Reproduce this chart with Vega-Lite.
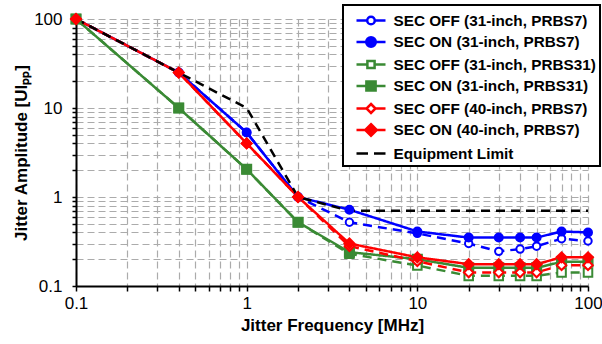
{
  "$schema": "https://vega.github.io/schema/vega-lite/v6.json",
  "width": 512,
  "height": 267,
  "autosize": {"type": "none"},
  "padding": {"left": 76, "top": 19, "right": 14, "bottom": 58},
  "background": "white",
  "config": {
    "view": {"stroke": null},
    "font": "Liberation Sans"
  },
  "data": {
    "values": [
      {"s": "SEC OFF (31-inch, PRBS7)", "f": 0.1, "a": 100},
      {"s": "SEC OFF (31-inch, PRBS7)", "f": 0.4, "a": 25},
      {"s": "SEC OFF (31-inch, PRBS7)", "f": 1, "a": 5.3},
      {"s": "SEC OFF (31-inch, PRBS7)", "f": 2, "a": 1},
      {"s": "SEC OFF (31-inch, PRBS7)", "f": 4, "a": 0.52},
      {"s": "SEC OFF (31-inch, PRBS7)", "f": 10, "a": 0.39},
      {"s": "SEC OFF (31-inch, PRBS7)", "f": 20, "a": 0.3},
      {"s": "SEC OFF (31-inch, PRBS7)", "f": 30, "a": 0.245},
      {"s": "SEC OFF (31-inch, PRBS7)", "f": 40, "a": 0.26},
      {"s": "SEC OFF (31-inch, PRBS7)", "f": 50, "a": 0.28},
      {"s": "SEC OFF (31-inch, PRBS7)", "f": 70, "a": 0.34},
      {"s": "SEC OFF (31-inch, PRBS7)", "f": 100, "a": 0.32},
      {"s": "SEC ON (31-inch, PRBS7)", "f": 0.1, "a": 100},
      {"s": "SEC ON (31-inch, PRBS7)", "f": 0.4, "a": 25},
      {"s": "SEC ON (31-inch, PRBS7)", "f": 1, "a": 5.3},
      {"s": "SEC ON (31-inch, PRBS7)", "f": 2, "a": 1},
      {"s": "SEC ON (31-inch, PRBS7)", "f": 4, "a": 0.72},
      {"s": "SEC ON (31-inch, PRBS7)", "f": 10, "a": 0.41},
      {"s": "SEC ON (31-inch, PRBS7)", "f": 20, "a": 0.35},
      {"s": "SEC ON (31-inch, PRBS7)", "f": 30, "a": 0.35},
      {"s": "SEC ON (31-inch, PRBS7)", "f": 40, "a": 0.35},
      {"s": "SEC ON (31-inch, PRBS7)", "f": 50, "a": 0.35},
      {"s": "SEC ON (31-inch, PRBS7)", "f": 70, "a": 0.41},
      {"s": "SEC ON (31-inch, PRBS7)", "f": 100, "a": 0.4},
      {"s": "SEC OFF (31-inch, PRBS31)", "f": 0.1, "a": 100},
      {"s": "SEC OFF (31-inch, PRBS31)", "f": 0.4, "a": 10},
      {"s": "SEC OFF (31-inch, PRBS31)", "f": 1, "a": 2.05},
      {"s": "SEC OFF (31-inch, PRBS31)", "f": 2, "a": 0.52},
      {"s": "SEC OFF (31-inch, PRBS31)", "f": 4, "a": 0.23},
      {"s": "SEC OFF (31-inch, PRBS31)", "f": 10, "a": 0.17},
      {"s": "SEC OFF (31-inch, PRBS31)", "f": 20, "a": 0.13},
      {"s": "SEC OFF (31-inch, PRBS31)", "f": 30, "a": 0.13},
      {"s": "SEC OFF (31-inch, PRBS31)", "f": 40, "a": 0.13},
      {"s": "SEC OFF (31-inch, PRBS31)", "f": 50, "a": 0.13},
      {"s": "SEC OFF (31-inch, PRBS31)", "f": 70, "a": 0.142},
      {"s": "SEC OFF (31-inch, PRBS31)", "f": 100, "a": 0.142},
      {"s": "SEC ON (31-inch, PRBS31)", "f": 0.1, "a": 100},
      {"s": "SEC ON (31-inch, PRBS31)", "f": 0.4, "a": 10},
      {"s": "SEC ON (31-inch, PRBS31)", "f": 1, "a": 2.05},
      {"s": "SEC ON (31-inch, PRBS31)", "f": 2, "a": 0.52},
      {"s": "SEC ON (31-inch, PRBS31)", "f": 4, "a": 0.24},
      {"s": "SEC ON (31-inch, PRBS31)", "f": 10, "a": 0.2},
      {"s": "SEC ON (31-inch, PRBS31)", "f": 20, "a": 0.16},
      {"s": "SEC ON (31-inch, PRBS31)", "f": 30, "a": 0.16},
      {"s": "SEC ON (31-inch, PRBS31)", "f": 40, "a": 0.16},
      {"s": "SEC ON (31-inch, PRBS31)", "f": 50, "a": 0.16},
      {"s": "SEC ON (31-inch, PRBS31)", "f": 70, "a": 0.187},
      {"s": "SEC ON (31-inch, PRBS31)", "f": 100, "a": 0.187},
      {"s": "SEC OFF (40-inch, PRBS7)", "f": 0.1, "a": 100},
      {"s": "SEC OFF (40-inch, PRBS7)", "f": 0.4, "a": 25},
      {"s": "SEC OFF (40-inch, PRBS7)", "f": 1, "a": 4.0},
      {"s": "SEC OFF (40-inch, PRBS7)", "f": 2, "a": 1},
      {"s": "SEC OFF (40-inch, PRBS7)", "f": 4, "a": 0.28},
      {"s": "SEC OFF (40-inch, PRBS7)", "f": 10, "a": 0.19},
      {"s": "SEC OFF (40-inch, PRBS7)", "f": 20, "a": 0.142},
      {"s": "SEC OFF (40-inch, PRBS7)", "f": 30, "a": 0.142},
      {"s": "SEC OFF (40-inch, PRBS7)", "f": 40, "a": 0.142},
      {"s": "SEC OFF (40-inch, PRBS7)", "f": 50, "a": 0.142},
      {"s": "SEC OFF (40-inch, PRBS7)", "f": 70, "a": 0.171},
      {"s": "SEC OFF (40-inch, PRBS7)", "f": 100, "a": 0.171},
      {"s": "SEC ON (40-inch, PRBS7)", "f": 0.1, "a": 100},
      {"s": "SEC ON (40-inch, PRBS7)", "f": 0.4, "a": 25},
      {"s": "SEC ON (40-inch, PRBS7)", "f": 1, "a": 4.0},
      {"s": "SEC ON (40-inch, PRBS7)", "f": 2, "a": 1},
      {"s": "SEC ON (40-inch, PRBS7)", "f": 4, "a": 0.3},
      {"s": "SEC ON (40-inch, PRBS7)", "f": 10, "a": 0.21},
      {"s": "SEC ON (40-inch, PRBS7)", "f": 20, "a": 0.176},
      {"s": "SEC ON (40-inch, PRBS7)", "f": 30, "a": 0.176},
      {"s": "SEC ON (40-inch, PRBS7)", "f": 40, "a": 0.176},
      {"s": "SEC ON (40-inch, PRBS7)", "f": 50, "a": 0.176},
      {"s": "SEC ON (40-inch, PRBS7)", "f": 70, "a": 0.21},
      {"s": "SEC ON (40-inch, PRBS7)", "f": 100, "a": 0.21},
      {"s": "Equipment Limit", "f": 0.1, "a": 100},
      {"s": "Equipment Limit", "f": 0.4, "a": 25},
      {"s": "Equipment Limit", "f": 1, "a": 10},
      {"s": "Equipment Limit", "f": 2, "a": 1},
      {"s": "Equipment Limit", "f": 4, "a": 0.7},
      {"s": "Equipment Limit", "f": 100, "a": 0.7}
    ]
  },
  "encoding": {
    "x": {
      "field": "f", "type": "quantitative",
      "scale": {"type": "log", "domain": [0.1, 100], "nice": false},
      "axis": {
        "title": "Jitter Frequency [MHz]",
        "titleFont": "Liberation Sans", "titleFontSize": 17, "titleFontWeight": "bold", "titleColor": "black", "titlePadding": 6,
        "values": [0.1,0.2,0.3,0.4,0.5,0.6,0.7,0.8,0.9,1,2,3,4,5,6,7,8,9,10,20,30,40,50,60,70,80,90,100],
        "labelExpr": "(datum.value==0.1||datum.value==1||datum.value==10||datum.value==100) ? format(datum.value,'~g') : ''",
        "labelFont": "Liberation Sans", "labelFontSize": 17, "labelColor": "black", "labelPadding": 4, "labelFlush": false, "labelOverlap": false,
        "domainColor": "black", "domainWidth": 2,
        "tickColor": "black", "tickWidth": 1.5, "tickSize": 5,
        "grid": true, "gridColor": "#ababab", "gridDash": [7, 4], "gridWidth": 1.2
      }
    },
    "y": {
      "field": "a", "type": "quantitative",
      "scale": {"type": "log", "domain": [0.1, 100], "nice": false},
      "axis": {
        "title": "Jitter Amplitude [UIₚₚ]",
        "titleFont": "Liberation Sans", "titleFontSize": 17, "titleFontWeight": "bold", "titleColor": "black", "titlePadding": 3,
        "values": [0.1,0.2,0.3,0.4,0.5,0.6,0.7,0.8,0.9,1,2,3,4,5,6,7,8,9,10,20,30,40,50,60,70,80,90,100],
        "labelExpr": "(datum.value==0.1||datum.value==1||datum.value==10||datum.value==100) ? format(datum.value,'~g') : ''",
        "labelFont": "Liberation Sans", "labelFontSize": 17, "labelColor": "black", "labelPadding": 10, "labelFlush": false, "labelOverlap": false,
        "domainColor": "black", "domainWidth": 2,
        "tickColor": "black", "tickWidth": 1.5, "tickSize": 4,
        "grid": true, "gridColor": "#ababab", "gridDash": [7, 4], "gridWidth": 1.2
      }
    }
  },
  "layer": [
    {
      "mark": {"type": "line", "strokeWidth": 2.5},
      "encoding": {
        "stroke": {
          "field": "s", "type": "nominal",
          "scale": {
            "domain": ["SEC OFF (31-inch, PRBS7)", "SEC ON (31-inch, PRBS7)", "SEC OFF (31-inch, PRBS31)", "SEC ON (31-inch, PRBS31)", "SEC OFF (40-inch, PRBS7)", "SEC ON (40-inch, PRBS7)", "Equipment Limit"],
            "range": ["#0000ff", "#0000ff", "#3a8a34", "#3a8a34", "#ff0000", "#ff0000", "#000000"]
          },
          "legend": {
            "orient": "none", "legendX": 267, "legendY": -14,
            "title": null,
            "fillColor": "white", "strokeColor": "black",
            "padding": 4,
            "symbolSize": 400, "symbolOffset": 12.5, "symbolStrokeWidth": 2.5,
            "labelOffset": 11, "rowPadding": 0.5,
            "labelExpr": "datum.label + '  '",
            "labelFont": "Liberation Sans", "labelFontSize": 15.3, "labelFontWeight": "bold", "labelColor": "black", "labelLimit": 400,
            "encode": {
              "legend": {"update": {"strokeWidth": {"value": 2}}},
              "symbols": {
                "update": {
                  "shape": {"signal": "datum.value=='SEC OFF (31-inch, PRBS7)' ? 'M-1.45,0H-0.42M0.42,0H1.45M0.38,0A0.38,0.38 0 1,1 -0.38,0A0.38,0.38 0 1,1 0.38,0Z' : datum.value=='SEC ON (31-inch, PRBS7)' ? 'M-1.45,0H-0.48M0.48,0H1.45M0.48,0A0.48,0.48 0 1,1 -0.48,0A0.48,0.48 0 1,1 0.48,0Z' : datum.value=='SEC OFF (31-inch, PRBS31)' ? 'M-1.45,0H-0.36M0.36,0H1.45M-0.36,-0.36H0.36V0.36H-0.36Z' : datum.value=='SEC ON (31-inch, PRBS31)' ? 'M-1.45,0H-0.46M0.46,0H1.45M-0.46,-0.46H0.46V0.46H-0.46Z' : datum.value=='SEC OFF (40-inch, PRBS7)' ? 'M-1.45,0H-0.45M0.45,0H1.45M0,-0.45L0.45,0L0,0.45L-0.45,0Z' : datum.value=='SEC ON (40-inch, PRBS7)' ? 'M-1.45,0H-0.58M0.58,0H1.45M0,-0.58L0.58,0L0,0.58L-0.58,0Z' : 'M-1.45,0H-0.3M0.3,0H1.45'"},
                  "fill": {"signal": "indexof(datum.value,'SEC OFF')==0 ? 'white' : datum.value=='Equipment Limit' ? 'transparent' : scale('stroke', datum.value)"},
                  "opacity": {"value": 1}
                }
              }
            }
          }
        },
        "strokeDash": {
          "condition": {"test": "indexof(datum.s, 'SEC OFF') == 0 || datum.s == 'Equipment Limit'", "value": [9, 6]},
          "value": [1, 0]
        }
      }
    },
    {
      "transform": [{"filter": "datum.s != 'Equipment Limit'"}],
      "mark": {"type": "point", "filled": true, "strokeWidth": 2, "opacity": 1},
      "encoding": {
        "stroke": {"field": "s", "type": "nominal"},
        "fill": {
          "field": "s", "type": "nominal",
          "scale": {
            "domain": ["SEC OFF (31-inch, PRBS7)", "SEC ON (31-inch, PRBS7)", "SEC OFF (31-inch, PRBS31)", "SEC ON (31-inch, PRBS31)", "SEC OFF (40-inch, PRBS7)", "SEC ON (40-inch, PRBS7)"],
            "range": ["white", "#0000ff", "white", "#3a8a34", "white", "#ff0000"]
          },
          "legend": null
        },
        "shape": {
          "field": "s", "type": "nominal",
          "scale": {
            "domain": ["SEC OFF (31-inch, PRBS7)", "SEC ON (31-inch, PRBS7)", "SEC OFF (31-inch, PRBS31)", "SEC ON (31-inch, PRBS31)", "SEC OFF (40-inch, PRBS7)", "SEC ON (40-inch, PRBS7)"],
            "range": ["circle", "circle", "square", "square", "diamond", "diamond"]
          },
          "legend": null
        },
        "size": {
          "field": "s", "type": "nominal",
          "scale": {
            "domain": ["SEC OFF (31-inch, PRBS7)", "SEC ON (31-inch, PRBS7)", "SEC OFF (31-inch, PRBS31)", "SEC ON (31-inch, PRBS31)", "SEC OFF (40-inch, PRBS7)", "SEC ON (40-inch, PRBS7)"],
            "range": [55, 100, 50, 95, 60, 120]
          },
          "legend": null
        }
      }
    }
  ]
}
